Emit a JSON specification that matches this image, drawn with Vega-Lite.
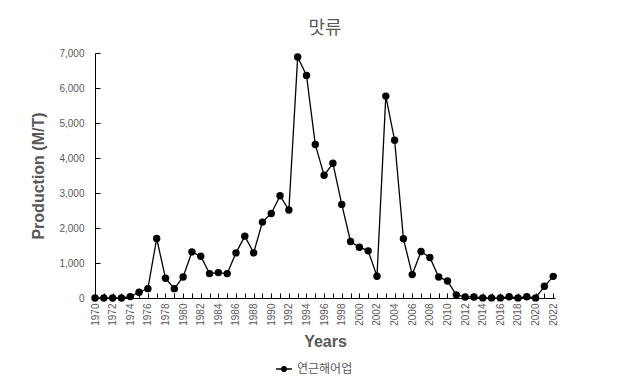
{
  "$schema": "https://vega.github.io/schema/vega-lite/v6.json",
  "width": 460,
  "height": 245,
  "autosize": {"type": "none"},
  "padding": {"left": 95, "top": 53, "right": 69, "bottom": 92},
  "background": "white",
  "title": {
    "text": "맛류",
    "font": "Noto Sans CJK KR",
    "fontSize": 18,
    "fontWeight": "normal",
    "color": "#595959",
    "offset": 10,
    "anchor": "middle"
  },
  "config": {
    "view": {"stroke": null},
    "axis": {"grid": false, "domainColor": "#000000", "tickColor": "#000000", "labelColor": "#595959", "titleColor": "#595959", "labelFont": "Liberation Sans", "titleFont": "Liberation Sans"}
  },
  "data": {
    "values": [
      {"year": 1970, "value": 0, "series": "연근해어업"},
      {"year": 1971, "value": 0, "series": "연근해어업"},
      {"year": 1972, "value": 0, "series": "연근해어업"},
      {"year": 1973, "value": 0, "series": "연근해어업"},
      {"year": 1974, "value": 40, "series": "연근해어업"},
      {"year": 1975, "value": 165, "series": "연근해어업"},
      {"year": 1976, "value": 267, "series": "연근해어업"},
      {"year": 1977, "value": 1700, "series": "연근해어업"},
      {"year": 1978, "value": 563, "series": "연근해어업"},
      {"year": 1979, "value": 267, "series": "연근해어업"},
      {"year": 1980, "value": 602, "series": "연근해어업"},
      {"year": 1981, "value": 1318, "series": "연근해어업"},
      {"year": 1982, "value": 1194, "series": "연근해어업"},
      {"year": 1983, "value": 697, "series": "연근해어업"},
      {"year": 1984, "value": 726, "series": "연근해어업"},
      {"year": 1985, "value": 697, "series": "연근해어업"},
      {"year": 1986, "value": 1290, "series": "연근해어업"},
      {"year": 1987, "value": 1767, "series": "연근해어업"},
      {"year": 1988, "value": 1290, "series": "연근해어업"},
      {"year": 1989, "value": 2168, "series": "연근해어업"},
      {"year": 1990, "value": 2416, "series": "연근해어업"},
      {"year": 1991, "value": 2922, "series": "연근해어업"},
      {"year": 1992, "value": 2512, "series": "연근해어업"},
      {"year": 1993, "value": 6885, "series": "연근해어업"},
      {"year": 1994, "value": 6360, "series": "연근해어업"},
      {"year": 1995, "value": 4384, "series": "연근해어업"},
      {"year": 1996, "value": 3505, "series": "연근해어업"},
      {"year": 1997, "value": 3849, "series": "연근해어업"},
      {"year": 1998, "value": 2674, "series": "연근해어업"},
      {"year": 1999, "value": 1614, "series": "연근해어업"},
      {"year": 2000, "value": 1452, "series": "연근해어업"},
      {"year": 2001, "value": 1347, "series": "연근해어업"},
      {"year": 2002, "value": 621, "series": "연근해어업"},
      {"year": 2003, "value": 5768, "series": "연근해어업"},
      {"year": 2004, "value": 4508, "series": "연근해어업"},
      {"year": 2005, "value": 1691, "series": "연근해어업"},
      {"year": 2006, "value": 669, "series": "연근해어업"},
      {"year": 2007, "value": 1328, "series": "연근해어업"},
      {"year": 2008, "value": 1156, "series": "연근해어업"},
      {"year": 2009, "value": 602, "series": "연근해어업"},
      {"year": 2010, "value": 487, "series": "연근해어업"},
      {"year": 2011, "value": 90, "series": "연근해어업"},
      {"year": 2012, "value": 30, "series": "연근해어업"},
      {"year": 2013, "value": 30, "series": "연근해어업"},
      {"year": 2014, "value": 3, "series": "연근해어업"},
      {"year": 2015, "value": 3, "series": "연근해어업"},
      {"year": 2016, "value": 3, "series": "연근해어업"},
      {"year": 2017, "value": 35, "series": "연근해어업"},
      {"year": 2018, "value": 3, "series": "연근해어업"},
      {"year": 2019, "value": 35, "series": "연근해어업"},
      {"year": 2020, "value": 3, "series": "연근해어업"},
      {"year": 2021, "value": 334, "series": "연근해어업"},
      {"year": 2022, "value": 619, "series": "연근해어업"}
    ]
  },
  "mark": {"type": "line", "color": "#000000", "point": {"filled": true, "size": 55, "opacity": 1, "color": "#000000"}, "strokeWidth": 1.3},
  "encoding": {
    "x": {
      "field": "year",
      "type": "quantitative",
      "scale": {"domain": [1970, 2022.2], "nice": false, "zero": false},
      "axis": {
        "title": "Years",
        "titleFontSize": 16,
        "titleFontWeight": "bold",
        "titlePadding": 8,
        "values": [1970,1971,1972,1973,1974,1975,1976,1977,1978,1979,1980,1981,1982,1983,1984,1985,1986,1987,1988,1989,1990,1991,1992,1993,1994,1995,1996,1997,1998,1999,2000,2001,2002,2003,2004,2005,2006,2007,2008,2009,2010,2011,2012,2013,2014,2015,2016,2017,2018,2019,2020,2021,2022],
        "labelExpr": "datum.value % 2 == 0 ? datum.value + '' : ''",
        "labelAngle": -90,
        "labelAlign": "right",
        "labelBaseline": "middle",
        "labelFontSize": 10,
        "labelPadding": 10,
        "labelOverlap": false,
        "tickSize": -5,
        "labelFlush": false
      }
    },
    "y": {
      "field": "value",
      "type": "quantitative",
      "scale": {"domain": [0, 7000], "nice": false},
      "axis": {
        "title": "Production (M/T)",
        "titleFontSize": 16,
        "titleFontWeight": "bold",
        "values": [0, 1000, 2000, 3000, 4000, 5000, 6000, 7000],
        "format": ",d",
        "labelFontSize": 10,
        "labelPadding": 16,
        "tickSize": -5,
        "titlePadding": 12
      }
    },
    "color": {
      "field": "series",
      "type": "nominal",
      "scale": {"range": ["#000000"]},
      "legend": {
        "title": null,
        "orient": "none",
        "legendX": 180,
        "legendY": 307,
        "symbolType": "M-1,0L1,0M0,-0.3A0.3,0.3 0 1,1 0,0.3A0.3,0.3 0 1,1 0,-0.3Z",
        "symbolSize": 250,
        "symbolStrokeWidth": 1.3,
        "symbolFillColor": "#000000",
        "symbolStrokeColor": "#000000",
        "labelFont": "Noto Sans CJK KR",
        "labelFontSize": 12,
        "labelColor": "#595959"
      }
    }
  }
}
